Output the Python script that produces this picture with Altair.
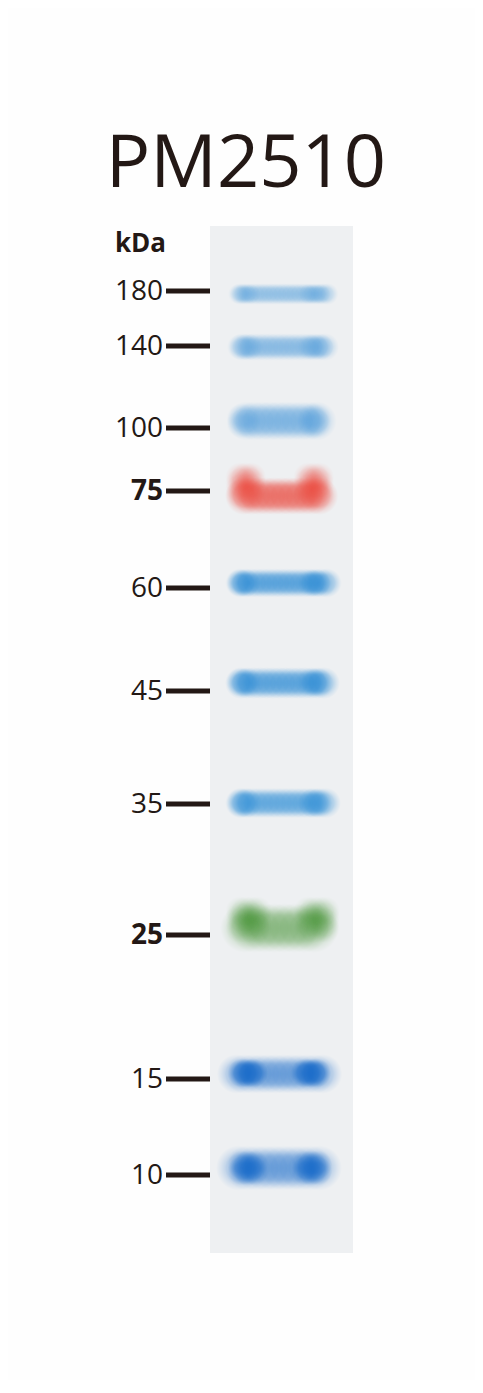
import altair as alt
import numpy as np
import pandas as pd

# marker sizes, top of the gel to the bottom
kda = [180, 140, 100, 75, 60, 45, 35, 25, 15, 10]
bold_kda = [75, 25]
# distance of each marker line below the top of the gel
marker_dist = [65, 120, 202, 265, 362, 465, 578, 709, 853, 949]

# stained bands: centre distance, thickness, horizontal extent across the lane
band_dist = [68, 121, 195, 270, 357, 457, 577, 702, 848, 942]
band_thick = [15, 19, 27, 26, 20, 22, 21, 34, 27, 31]
band_left = [23, 23, 23, 21, 20, 20, 20, 18, 13, 13]
band_right = [125, 126, 126, 125, 127, 128, 127, 128, 130, 130]
# the darker "ears" at both sides of each band (centre, width, height, lift)
lobe_left = [36, 36, 36, 38, 36, 36, 36, 39, 39, 39]
lobe_right = [106, 106, 106, 106, 107, 107, 107, 107, 102, 103]
lobe_width = [30, 30, 30, 36, 30, 30, 30, 38, 34, 34]
lobe_thick = [14, 18, 26, 40, 19, 21, 20, 42, 22, 26]
lobe_raise = [0, 0, 0, 9, 0, 0, 0, 6, 0, 0]

# style per band
band_color = ["#4a9ad9", "#4596d8", "#3e92d7", "#e94438", "#1f84d2",
              "#1f84d2", "#2388d4", "#3a8c28", "#1468c8", "#1468c8"]
band_alpha = [0.6, 0.64, 0.68, 0.78, 0.76, 0.76, 0.73, 0.6, 0.66, 0.66]
lobe_alpha = [0.45, 0.45, 0.45, 0.85, 0.5, 0.5, 0.5, 0.85, 0.9, 0.9]

GEL_WIDTH = 143
GEL_LENGTH = 1027
INK = "#231815"
W, H = 467, 1372

xs = alt.Scale(domain=[-202, W - 202], nice=False, zero=False)
ys = alt.Scale(domain=[-218, H - 218], nice=False, zero=False, reverse=True)


def rgba(c, a):
    return f"rgba({int(c[1:3], 16)},{int(c[3:5], 16)},{int(c[5:7], 16)},{a})"


def soft(c):
    return {
        "gradient": "radial",
        "x1": 0.5, "y1": 0.5, "r1": 0,
        "x2": 0.5, "y2": 0.5, "r2": 0.5,
        "stops": [
            {"offset": 0, "color": rgba(c, 1)},
            {"offset": 0.55, "color": rgba(c, 0.9)},
            {"offset": 0.8, "color": rgba(c, 0.35)},
            {"offset": 1, "color": rgba(c, 0)},
        ],
    }


def soft_box(u_lo, u_hi, d_lo, d_hi, alpha, s=None):
    # fill a box with overlapping soft dots so its edges fade out
    if s is None:
        s = min(u_hi - u_lo, d_hi - d_lo)
    dia = s * 1.45
    step = dia / 5
    uu = np.arange(u_lo + s / 2, u_hi - s / 2 + 0.01, step) if u_hi - u_lo > s + 0.5 else [(u_lo + u_hi) / 2]
    dd = np.arange(d_lo + s / 2, d_hi - s / 2 + 0.01, step) if d_hi - d_lo > s + 0.5 else [(d_lo + d_hi) / 2]
    n = min(len(uu), 4) * min(len(dd), 4)
    a = 1 - (1 - alpha) ** (1 / n)
    return [{"u": u, "d": d, "size": dia ** 2, "alpha": a} for u in uu for d in dd]


gel = alt.Chart(pd.DataFrame({"u": [0], "u2": [GEL_WIDTH], "d": [0], "d2": [GEL_LENGTH]})).mark_rect(
    color="#eef0f2"
).encode(
    x=alt.X("u:Q", scale=xs, axis=None), x2="u2:Q",
    y=alt.Y("d:Q", scale=ys, axis=None), y2="d2:Q",
)

layers = [gel]
for i in range(len(kda)):
    t = band_thick[i]
    rows = soft_box(band_left[i], band_right[i], band_dist[i] - t / 2, band_dist[i] + t / 2, band_alpha[i])
    lt, lw = lobe_thick[i], lobe_width[i]
    lc = band_dist[i] - lobe_raise[i]
    for lu in (lobe_left[i], lobe_right[i]):
        rows += soft_box(lu - lw / 2, lu + lw / 2, lc - lt / 2, lc + lt / 2, lobe_alpha[i], s=min(lw, lt, 20))
    layers.append(
        alt.Chart(pd.DataFrame(rows)).mark_circle(fill=soft(band_color[i]), strokeWidth=0).encode(
            x=alt.X("u:Q", scale=xs, axis=None),
            y=alt.Y("d:Q", scale=ys, axis=None),
            size=alt.Size("size:Q", scale=None, legend=None),
            opacity=alt.Opacity("alpha:Q", scale=None, legend=None),
        )
    )

markers = pd.DataFrame({"kda": kda, "d": marker_dist})
markers["u0"] = -44
markers["u1"] = 0
markers["lu"] = -47
markers["bold"] = markers["kda"].isin(bold_kda)

ticks = alt.Chart(markers).mark_rule(strokeWidth=5, color=INK).encode(
    x=alt.X("u0:Q", scale=xs, axis=None), x2="u1:Q",
    y=alt.Y("d:Q", scale=ys, axis=None),
)
layers.append(ticks)

for is_bold, weight in ((False, "normal"), (True, "bold")):
    layers.append(
        alt.Chart(markers[markers["bold"] == is_bold]).mark_text(
            align="right", baseline="middle", font="Open Sans", fontSize=28,
            fontWeight=weight, color=INK, dy=1,
        ).encode(
            x=alt.X("lu:Q", scale=xs, axis=None),
            y=alt.Y("d:Q", scale=ys, axis=None),
            text="kda:N",
        )
    )

heads = pd.DataFrame({"u": [-95, 36], "d": [26, -39], "t": ["kDa", "PM2510"]})
layers.append(
    alt.Chart(heads.iloc[[0]]).mark_text(
        align="left", baseline="alphabetic", font="Open Sans", fontSize=26,
        fontWeight="bold", color=INK,
    ).encode(x=alt.X("u:Q", scale=xs, axis=None), y=alt.Y("d:Q", scale=ys, axis=None), text="t:N")
)
layers.append(
    alt.Chart(heads.iloc[[1]]).mark_text(
        align="center", baseline="alphabetic", font="Open Sans", fontSize=74, color=INK,
    ).encode(x=alt.X("u:Q", scale=xs, axis=None), y=alt.Y("d:Q", scale=ys, axis=None), text="t:N")
)

chart = alt.layer(*layers).properties(
    width=W, height=H, padding=0,
    autosize=alt.AutoSizeParams(type="fit", contains="padding"),
    background="#fefefe",
).configure_view(stroke=None)

chart.save("out.html", embed_options={"renderer": "svg", "actions": False})
